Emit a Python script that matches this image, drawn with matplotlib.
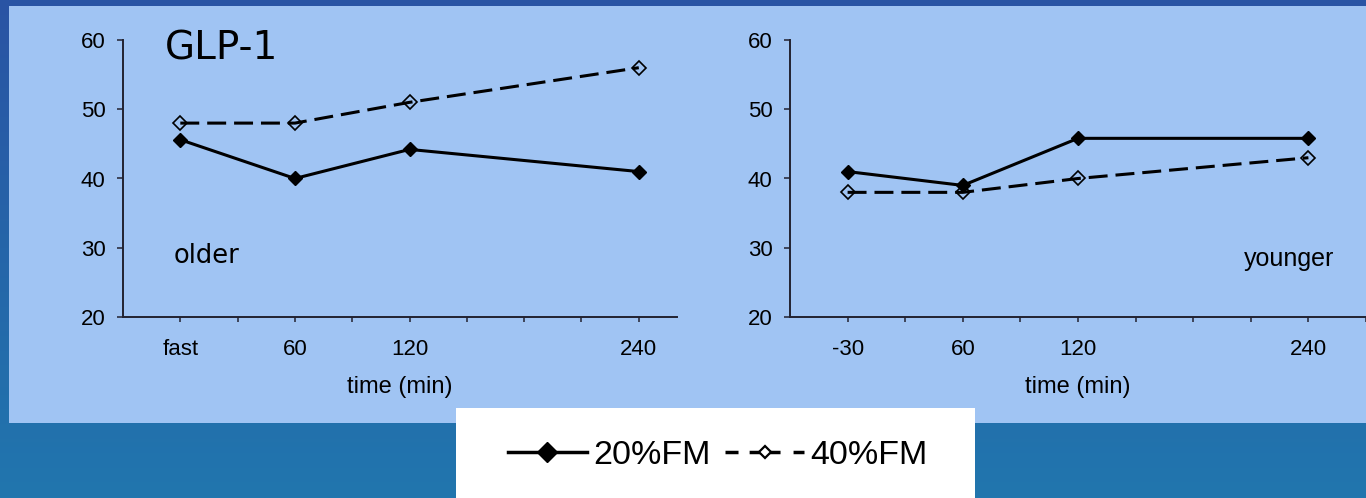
import matplotlib
matplotlib.use("Agg")
import matplotlib.pyplot as plt
import numpy as np
from matplotlib.patches import Rectangle
from matplotlib.lines import Line2D

# ---- data ----
x_minutes = [0, 60, 120, 240]
older_labels = ["fast", "60", "120", "240"]
younger_labels = ["-30", "60", "120", "240"]
older_20 = [45.6, 40.0, 44.2, 41.0]
older_40 = [48.0, 48.0, 51.0, 56.0]
younger_20 = [41.0, 39.0, 45.8, 45.8]
younger_40 = [38.0, 38.0, 40.0, 43.0]
y_ticks = [20, 30, 40, 50, 60]
series_names = ["20%FM", "40%FM"]

W, H = 1366, 498
fig = plt.figure(figsize=(W / 100, H / 100), dpi=100)

# background gradient
bg = fig.add_axes([0, 0, 1, 1], zorder=-10)
top = np.array([0x2a, 0x54, 0xa4]) / 255
bot = np.array([0x21, 0x76, 0xae]) / 255
t = np.linspace(0, 1, 256)[:, None]
grad = top[None, :] * (1 - t) + bot[None, :] * t
bg.imshow(grad[:, None, :].repeat(2, axis=1), aspect="auto", extent=[0, 1, 0, 1])
bg.set_xlim(0, 1); bg.set_ylim(0, 1)
bg.axis("off")

panel_color = "#a0c4f3"
fig.patches.append(Rectangle((9 / W, 1 - 423 / H), 1 - 9 / W, (423 - 6) / H,
                             transform=fig.transFigure, facecolor=panel_color,
                             edgecolor="none", zorder=-5))
fig.patches.append(Rectangle((456 / W, 0), (975 - 456) / W, (498 - 408) / H,
                             transform=fig.transFigure, facecolor="white",
                             edgecolor="none", zorder=-4))

tick_font = "Liberation Sans"
axis_color = "#222230"

def setup(ax, labels, xlim):
    ax.set_facecolor("none")
    for s in ["top", "right"]:
        ax.spines[s].set_visible(False)
    for s in ["left", "bottom"]:
        ax.spines[s].set_linewidth(1.4)
        ax.spines[s].set_color(axis_color)
    ax.set_ylim(20, 60)
    ax.set_xlim(*xlim)
    ax.set_yticks(y_ticks)
    ax.set_yticklabels([str(v) for v in y_ticks], fontsize=16, family=tick_font)
    xt = np.arange(0, xlim[1] + 1, 30)
    ax.set_xticks(xt)
    lab = []
    for v in xt:
        if v in x_minutes:
            lab.append(labels[x_minutes.index(v)])
        else:
            lab.append("")
    ax.set_xticklabels(lab, fontsize=16, family=tick_font)
    ax.tick_params(axis="x", length=3.6, width=1.1, pad=12.5, direction="out",
                   color=axis_color)
    ax.tick_params(axis="y", length=4.3, width=1.1, pad=8.4, direction="out",
                   color=axis_color)
    ax.set_xlabel("time (min)", fontsize=17, family=tick_font, labelpad=11.5)

def plot_series(ax, y20, y40):
    ax.plot(x_minutes, y20, color="black", lw=2.2, marker="D", ms=7.0,
            mfc="black", mec="black", clip_on=False)
    ax.plot(x_minutes, y40, color="black", lw=2.2, ls=(0, (6.2, 2.6)), marker="D",
            ms=7.2, mfc="none", mec="black", mew=1.2, clip_on=False)

ax1 = fig.add_axes([123 / W, 1 - 317 / H, (677 - 123) / W, (317 - 40) / H])
setup(ax1, older_labels, (-30, 260))
plot_series(ax1, older_20, older_40)
ax1.text(165 / W, 1 - 48 / H, "GLP-1", transform=fig.transFigure, fontsize=28,
         family="DejaVu Sans", va="center", ha="left")
ax1.text(174 / W, 1 - 256 / H, "older", transform=fig.transFigure, fontsize=18.5,
         family="DejaVu Sans", va="center", ha="left")

ax2 = fig.add_axes([790 / W, 1 - 317 / H, (1366 - 790) / W, (317 - 40) / H])
setup(ax2, younger_labels, (-30, 270))
plot_series(ax2, younger_20, younger_40)
ax2.text(1334 / W, 1 - 259 / H, "younger", transform=fig.transFigure, fontsize=18,
         family=tick_font, va="center", ha="right")

h1 = Line2D([], [], color="black", lw=2.5, marker="D", ms=10, mfc="black", mec="black")
h2 = Line2D([], [], color="black", lw=2.5, ls=(0, (3.75, 3.2, 8.9, 3.75, 3.5, 20)),
            marker="D", ms=6.5, mfc="white", mec="black", mew=1.6)
leg = fig.legend([h1, h2], series_names, loc="center", ncol=2,
                 bbox_to_anchor=(718 / W, 1 - 455 / H), frameon=False,
                 prop={"family": tick_font, "size": 24.5}, handlelength=2.3,
                 handletextpad=0.2, columnspacing=0.43, borderpad=0)

fig.savefig("out.png", dpi=100)
